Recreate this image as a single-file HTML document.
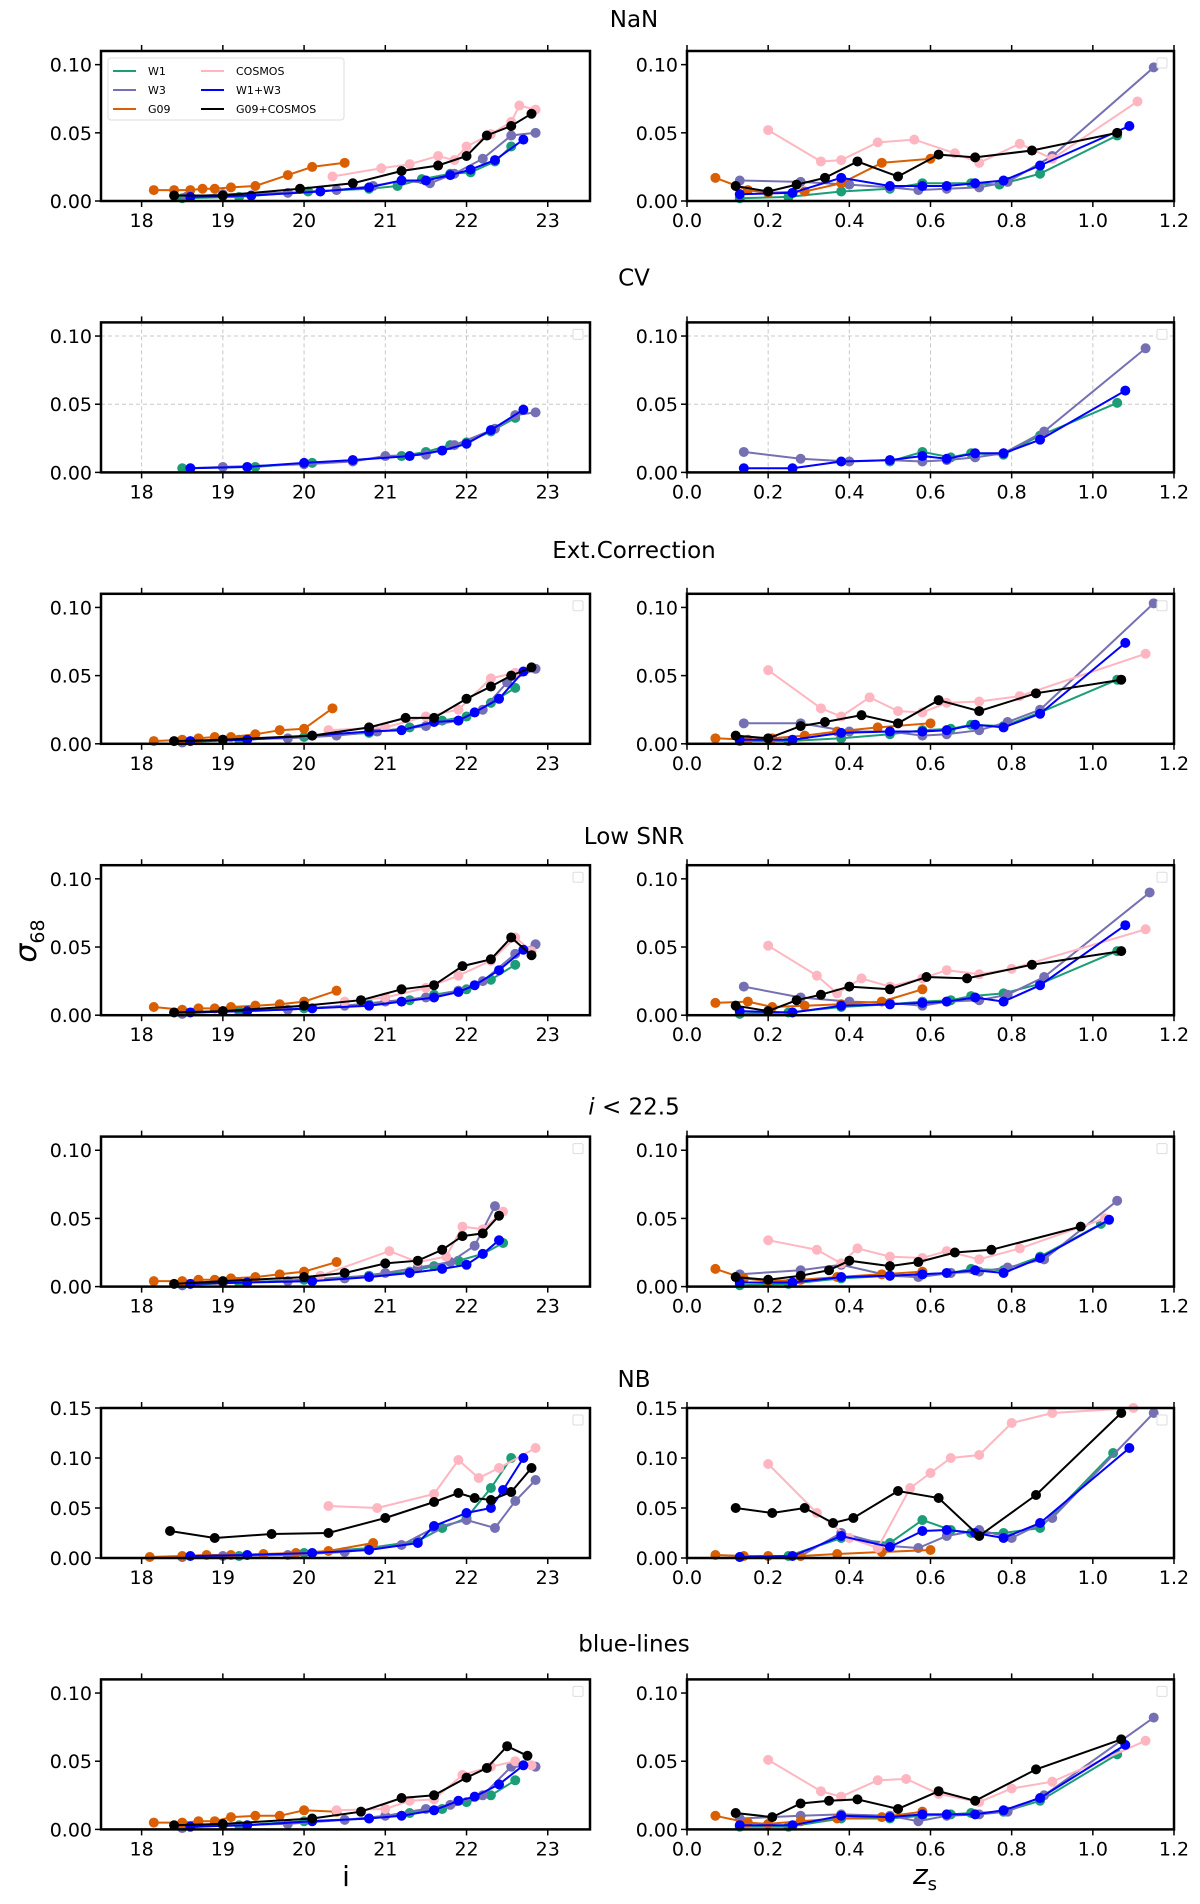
<!DOCTYPE html>
<html><head><meta charset="utf-8"><style>
body{margin:0;background:#fff;}
svg{display:block;font-family:"DejaVu Sans","Liberation Sans",sans-serif;}
</style></head><body>
<svg id="fig" width="1200" height="1904" viewBox="0 0 1200 1904" xmlns="http://www.w3.org/2000/svg"></svg>
<script>
const rowTitles=["NaN","CV","Ext.Correction","Low SNR","i<22.5","NB","blue-lines"];
const seriesNames=["W1","W3","G09","COSMOS","W1+W3","G09+COSMOS"];
const seriesColors=["#1b9e77","#7570b3","#d95f02","#ffb6c1","#0000ff","#000000"];
const iTicks=[18,19,20,21,22,23];
const zTicks=[0.0,0.2,0.4,0.6,0.8,1.0,1.2];
const zTickLabels=["0.0","0.2","0.4","0.6","0.8","1.0","1.2"];
const yTicksA=[0,0.05,0.10];const yTickLabelsA=["0.00","0.05","0.10"];
const yTicksB=[0,0.05,0.10,0.15];const yTickLabelsB=["0.00","0.05","0.10","0.15"];
const nanI=[
[[18.5,19.2,20.05,20.8,21.15,21.45,21.8,22.05,22.35,22.55],[.002,.003,.007,.009,.011,.016,.020,.021,.029,.040]],
[[18.55,19.0,19.8,20.4,20.85,21.2,21.55,21.85,22.2,22.55,22.85],[.003,.005,.006,.008,.011,.015,.013,.020,.031,.048,.050]],
[[18.15,18.4,18.6,18.75,18.9,19.1,19.4,19.8,20.1,20.5],[.008,.008,.008,.009,.009,.010,.011,.019,.025,.028]],
[[20.35,20.95,21.3,21.65,21.85,22.0,22.3,22.55,22.65,22.85],[.018,.024,.027,.033,.030,.040,.049,.058,.070,.067]],
[[18.6,19.35,20.2,20.8,21.2,21.5,21.8,22.05,22.35,22.7],[.003,.004,.007,.010,.015,.015,.019,.023,.030,.045]],
[[18.4,19.0,19.95,20.6,21.2,21.65,22.0,22.25,22.55,22.8],[.004,.004,.009,.013,.022,.026,.033,.048,.055,.064]]];
const nanZ=[
[[.13,.25,.38,.5,.58,.7,.77,.87,1.06],[.002,.003,.007,.009,.013,.013,.012,.020,.048]],
[[.13,.28,.4,.5,.57,.64,.72,.79,.9,1.15],[.015,.014,.012,.010,.008,.009,.010,.014,.033,.098]],
[[.07,.15,.2,.29,.38,.48,.6],[.017,.008,.006,.007,.013,.028,.031]],
[[.2,.33,.38,.47,.56,.66,.72,.82,.9,1.11],[.052,.029,.030,.043,.045,.035,.028,.042,.031,.073]],
[[.13,.26,.38,.5,.58,.64,.71,.78,.87,1.09],[.005,.006,.017,.011,.011,.011,.013,.015,.026,.055]],
[[.12,.2,.27,.34,.42,.52,.62,.71,.85,1.06],[.011,.007,.012,.017,.029,.018,.034,.032,.037,.050]]];
const cvI=[
[[18.5,19.4,20.1,20.6,21.2,21.5,21.8,22.0,22.3,22.6],[.003,.004,.007,.009,.012,.015,.020,.022,.030,.040]],
[[18.6,19.0,20.0,20.6,21.0,21.5,21.85,22.35,22.6,22.85],[.003,.004,.006,.008,.012,.013,.020,.032,.042,.044]],
null,null,
[[18.6,19.3,20.0,20.6,21.3,21.7,22.0,22.3,22.7],[.003,.004,.007,.009,.012,.016,.021,.031,.046]],
null];
const cvZ=[
[[.5,.58,.65,.7,.78,.87,1.06],[.008,.015,.011,.014,.013,.027,.051]],
[[.14,.28,.4,.5,.58,.64,.71,.78,.88,1.13],[.015,.010,.008,.009,.008,.009,.011,.014,.030,.091]],
null,null,
[[.14,.26,.38,.5,.58,.64,.71,.78,.87,1.08],[.003,.003,.008,.009,.012,.010,.014,.014,.024,.060]],
null];
const extI=[
[[18.5,19.2,20.0,20.8,21.3,21.7,22.0,22.3,22.6],[.001,.003,.005,.008,.012,.017,.020,.030,.041]],
[[18.5,19.0,19.8,20.4,20.9,21.5,21.9,22.2,22.5,22.85],[.001,.003,.004,.006,.009,.013,.017,.025,.045,.055]],
[[18.15,18.5,18.7,18.9,19.1,19.4,19.7,20.0,20.35],[.002,.003,.004,.005,.005,.007,.010,.011,.026]],
[[20.3,21.0,21.5,21.9,22.3,22.6,22.8],[.010,.012,.020,.025,.048,.052,.056]],
[[18.6,19.3,20.1,20.8,21.2,21.6,21.9,22.1,22.4,22.7],[.002,.003,.006,.009,.010,.016,.017,.023,.033,.053]],
[[18.4,19.0,20.1,20.8,21.25,21.6,22.0,22.3,22.55,22.8],[.002,.003,.006,.012,.019,.019,.033,.042,.050,.056]]];
const extZ=[
[[.13,.25,.38,.5,.58,.65,.7,.78,.87,1.06],[.002,.002,.004,.007,.010,.011,.014,.013,.023,.047]],
[[.14,.28,.4,.5,.58,.64,.72,.79,.87,1.15],[.015,.015,.009,.009,.006,.007,.010,.016,.025,.103]],
[[.07,.15,.21,.29,.37,.47,.6],[.004,.003,.004,.006,.009,.012,.015]],
[[.2,.33,.38,.45,.52,.58,.64,.72,.82,1.13],[.054,.026,.020,.034,.024,.023,.030,.031,.035,.066]],
[[.13,.26,.38,.5,.58,.64,.71,.78,.87,1.08],[.003,.003,.008,.009,.009,.010,.014,.012,.022,.074]],
[[.12,.2,.28,.34,.43,.52,.62,.72,.86,1.07],[.006,.004,.013,.016,.021,.015,.032,.024,.037,.047]]];
const lowI=[
[[18.5,19.2,20.0,20.8,21.3,21.6,22.0,22.3,22.6],[.002,.003,.005,.008,.011,.015,.019,.026,.037]],
[[18.5,19.0,19.8,20.5,21.0,21.5,21.9,22.2,22.6,22.85],[.001,.003,.004,.007,.010,.013,.018,.025,.045,.052]],
[[18.15,18.5,18.7,18.9,19.1,19.4,19.7,20.0,20.4],[.006,.004,.005,.005,.006,.007,.008,.010,.018]],
[[20.5,21.0,21.5,21.9,22.3,22.6,22.8],[.010,.013,.020,.029,.040,.057,.047]],
[[18.6,19.3,20.1,20.8,21.2,21.6,21.9,22.1,22.4,22.7],[.002,.003,.005,.007,.010,.013,.017,.022,.033,.048]],
[[18.4,19.0,20.0,20.7,21.2,21.6,21.95,22.3,22.55,22.8],[.002,.003,.007,.011,.019,.022,.036,.041,.057,.044]]];
const lowZ=[
[[.13,.25,.38,.5,.58,.65,.7,.78,.87,1.06],[.001,.002,.006,.008,.010,.011,.014,.016,.023,.047]],
[[.14,.28,.4,.5,.58,.64,.72,.79,.88,1.14],[.021,.013,.010,.009,.007,.010,.011,.015,.028,.090]],
[[.07,.15,.21,.29,.38,.48,.58],[.009,.010,.006,.007,.008,.010,.019]],
[[.2,.32,.37,.43,.5,.58,.64,.72,.8,1.13],[.051,.029,.016,.027,.021,.027,.033,.030,.034,.063]],
[[.13,.26,.38,.5,.58,.64,.71,.78,.87,1.08],[.003,.002,.007,.008,.009,.010,.013,.010,.022,.066]],
[[.12,.2,.27,.33,.4,.5,.59,.69,.85,1.07],[.007,.003,.011,.015,.021,.019,.028,.027,.037,.047]]];
const cutI=[
[[18.5,19.2,20.0,20.8,21.3,21.6,21.9,22.2,22.45],[.001,.003,.005,.008,.011,.015,.019,.024,.032]],
[[18.5,19.0,19.8,20.5,21.0,21.4,21.8,22.1,22.35],[.001,.003,.004,.006,.010,.014,.018,.030,.059]],
[[18.15,18.5,18.7,18.9,19.1,19.4,19.7,20.0,20.4],[.004,.004,.005,.005,.006,.007,.009,.011,.018]],
[[20.2,21.05,21.4,21.75,21.95,22.2,22.45],[.008,.026,.018,.022,.044,.042,.055]],
[[18.6,19.3,20.1,20.8,21.3,21.7,22.0,22.2,22.4],[.002,.003,.004,.007,.010,.013,.016,.024,.034]],
[[18.4,19.0,20.0,20.5,21.0,21.4,21.7,21.95,22.2,22.4],[.002,.004,.007,.010,.017,.019,.027,.037,.039,.052]]];
const cutZ=[
[[.13,.25,.38,.5,.58,.65,.7,.78,.87,1.02],[.001,.002,.006,.008,.009,.010,.013,.012,.022,.046]],
[[.13,.28,.38,.5,.57,.65,.72,.79,.88,1.06],[.009,.012,.016,.008,.007,.010,.011,.014,.020,.063]],
[[.07,.14,.2,.28,.37,.48,.58],[.013,.006,.004,.005,.007,.009,.011]],
[[.2,.32,.38,.42,.5,.58,.64,.72,.82,1.03],[.034,.027,.017,.028,.022,.021,.026,.020,.028,.050]],
[[.13,.26,.38,.5,.58,.64,.71,.78,.87,1.04],[.003,.003,.007,.008,.009,.010,.012,.010,.021,.049]],
[[.12,.2,.28,.35,.4,.5,.57,.66,.75,.97],[.007,.005,.008,.012,.019,.015,.018,.025,.027,.044]]];
const nbI=[
[[18.5,19.2,20.0,20.8,21.4,21.7,22.0,22.3,22.55],[.001,.002,.005,.010,.017,.030,.040,.070,.100]],
[[18.5,19.0,19.8,20.5,21.2,21.6,22.0,22.35,22.6,22.85],[.001,.002,.003,.006,.013,.030,.038,.030,.057,.078]],
[[18.1,18.5,18.8,19.1,19.5,19.9,20.3,20.85],[.001,.002,.003,.003,.004,.005,.007,.015]],
[[20.3,20.9,21.6,21.9,22.15,22.4,22.85],[.052,.050,.064,.098,.080,.090,.110]],
[[18.6,19.3,20.1,20.8,21.4,21.6,22.0,22.3,22.45,22.7],[.002,.003,.005,.008,.015,.032,.045,.050,.068,.100]],
[[18.35,18.9,19.6,20.3,21.0,21.6,21.9,22.1,22.3,22.55,22.8],[.027,.020,.024,.025,.040,.056,.065,.060,.058,.066,.090]]];
const nbZ=[
[[.13,.25,.38,.5,.58,.65,.7,.78,.87,1.05],[.001,.002,.020,.015,.038,.028,.025,.025,.030,.105]],
[[.13,.28,.38,.5,.57,.64,.72,.8,.9,1.15],[.001,.002,.025,.012,.010,.022,.028,.020,.040,.145]],
[[.07,.14,.2,.28,.37,.48,.6],[.003,.002,.002,.002,.004,.006,.008]],
[[.2,.32,.4,.47,.55,.6,.65,.72,.8,.9,1.1],[.094,.045,.020,.010,.070,.085,.100,.103,.135,.145,.150]],
[[.13,.26,.38,.5,.58,.64,.71,.78,.87,1.09],[.001,.002,.022,.011,.027,.028,.025,.020,.035,.110]],
[[.12,.21,.29,.36,.41,.52,.62,.72,.86,1.07],[.050,.045,.050,.035,.040,.067,.060,.022,.063,.145]]];
const blI=[
[[18.5,19.2,20.0,20.8,21.3,21.7,22.0,22.3,22.6],[.002,.003,.006,.008,.012,.015,.020,.025,.036]],
[[18.5,19.0,19.8,20.5,21.0,21.5,21.8,22.2,22.55,22.85],[.001,.003,.004,.007,.010,.015,.018,.025,.046,.046]],
[[18.15,18.5,18.7,18.9,19.1,19.4,19.7,20.0,20.4],[.005,.005,.006,.006,.009,.010,.010,.014,.013]],
[[20.4,21.0,21.3,21.6,21.95,22.3,22.6,22.8],[.014,.015,.021,.022,.040,.046,.050,.047]],
[[18.6,19.3,20.1,20.8,21.2,21.6,21.9,22.1,22.4,22.7],[.002,.003,.006,.008,.010,.014,.021,.024,.033,.047]],
[[18.4,19.0,20.1,20.7,21.2,21.6,22.0,22.25,22.5,22.75],[.003,.004,.008,.013,.023,.025,.038,.045,.061,.054]]];
const blZ=[
[[.13,.25,.38,.5,.58,.65,.7,.78,.87,1.06],[.002,.002,.008,.008,.010,.011,.012,.013,.021,.055]],
[[.13,.28,.38,.5,.57,.64,.72,.79,.88,1.15],[.008,.010,.011,.010,.006,.010,.011,.013,.025,.082]],
[[.07,.15,.2,.28,.37,.48,.58],[.010,.005,.004,.006,.008,.009,.013]],
[[.2,.33,.38,.47,.54,.62,.72,.8,.9,1.13],[.051,.028,.024,.036,.037,.026,.020,.030,.035,.065]],
[[.13,.26,.38,.5,.58,.64,.71,.78,.87,1.08],[.003,.003,.010,.009,.011,.011,.011,.014,.023,.062]],
[[.12,.21,.28,.35,.42,.52,.62,.71,.86,1.07],[.012,.009,.019,.021,.022,.015,.028,.021,.044,.066]]];
const leftData=[nanI,cvI,extI,lowI,cutI,nbI,blI];
const rightData=[nanZ,cvZ,extZ,lowZ,cutZ,nbZ,blZ];

const NS="http://www.w3.org/2000/svg";
const svg=document.getElementById('fig');
function mk(tag,attrs,parent){const e=document.createElementNS(NS,tag);for(const k in attrs)e.setAttribute(k,attrs[k]);(parent||svg).appendChild(e);return e;}
const ROW0=51,PITCH=271.4,H=150;
const titleShift=[2,-11,-10,5,4,5,-2];
const panels=[{x0:101,x1:590,dom:[17.5,23.52],ticks:iTicks,labels:iTicks.map(String),key:"i"},
              {x0:687,x1:1174,dom:[0,1.2],ticks:zTicks,labels:zTickLabels,key:"z"}];
for(let r=0;r<7;r++){
  const top=ROW0+PITCH*r,bot=top+H;
  const ymax=(r===5)?0.15:0.11;
  const yt=(r===5)?yTicksB:yTicksA, ytl=(r===5)?yTickLabelsB:yTickLabelsA;
  const title=mk('text',{x:634,y:top-26+titleShift[r],'text-anchor':'middle','font-size':23,fill:'#000'});
  
  
  if(r===4){title.innerHTML='<tspan font-style="italic">i</tspan> &lt; 22.5';}else title.textContent=rowTitles[r];
  panels.forEach((p,pi)=>{
    const g=mk('g',{});
    
    
    const sx=v=>p.x0+(v-p.dom[0])/(p.dom[1]-p.dom[0])*(p.x1-p.x0);
    const sy=v=>bot-v/ymax*H;
    if(r===1){
      p.ticks.forEach(t=>{const l=mk('line',{x1:sx(t),x2:sx(t),y1:top,y2:bot,stroke:'#c8c8c8','stroke-width':1,'stroke-dasharray':'4,3'},g);});
      yt.forEach(t=>{const l=mk('line',{x1:p.x0,x2:p.x1,y1:sy(t),y2:sy(t),stroke:'#c8c8c8','stroke-width':1,'stroke-dasharray':'4,3'},g);});
    }
    const data=(pi===0?leftData:rightData)[r];
    data.forEach((s,si)=>{
      if(!s)return;
      const sg=mk('g',{},g);
      
      
      const pts=s[0].map((x,i)=>sx(x).toFixed(1)+','+sy(Math.min(s[1][i],ymax)).toFixed(1)).join(' ');
      const pl=mk('polyline',{points:pts,fill:'none',stroke:seriesColors[si],'stroke-width':2},sg);
      
      
      s[0].forEach((x,i)=>{
        const c=mk('circle',{cx:sx(x),cy:sy(Math.min(s[1][i],ymax)),r:5,fill:seriesColors[si]},sg);
        
        
      });
    });
    const fr=mk('rect',{x:p.x0,y:top,width:p.x1-p.x0,height:H,fill:'none',stroke:'#000','stroke-width':2.5},g);
    
    
    p.ticks.forEach((t,i)=>{
      const x=sx(t);
      mk('line',{x1:x,x2:x,y1:bot,y2:bot+6,stroke:'#000','stroke-width':1.5},g);
      mk('line',{x1:x,x2:x,y1:top,y2:top-6,stroke:'#000','stroke-width':1.5},g);
      const tl=mk('text',{x:x,y:bot+26,'text-anchor':'middle','font-size':19,fill:'#000'},g);
      
      
      tl.textContent=p.labels[i];
    });
    yt.forEach((t,i)=>{
      const y=sy(t);
      mk('line',{x1:p.x0,x2:p.x0-6,y1:y,y2:y,stroke:'#000','stroke-width':1.5},g);
      const tl=mk('text',{x:p.x0-9,y:y+7,'text-anchor':'end','font-size':19,fill:'#000'},g);
      
      
      tl.textContent=ytl[i];
    });
    if(!(r===0&&pi===0)){
      const lb=mk('rect',{x:p.x1-17,y:top+7,width:10,height:10,fill:'#fff',stroke:'#ddd','stroke-width':1,rx:1.5},g);
      
      
    }
  });
}
const lg=mk('g',{});


const lr=mk('rect',{x:108,y:58,width:236,height:62,fill:'#fff',stroke:'#ddd','stroke-width':1,rx:3},lg);


seriesNames.forEach((n,i)=>{
  const col=Math.floor(i/3),row=i%3;
  const lx=113+col*88,ly=71+row*19;
  const e=mk('g',{},lg);
  
  
  mk('line',{x1:lx,x2:lx+23,y1:ly,y2:ly,stroke:seriesColors[i],'stroke-width':2},e);
  const t=mk('text',{x:lx+35,y:ly+4,'font-size':11,fill:'#000'},e);
  t.textContent=n;
});
const yl=mk('text',{x:0,y:0,transform:'translate(36,941) rotate(-90)','text-anchor':'middle','font-size':30,fill:'#000'});


yl.innerHTML='<tspan font-style="italic">σ</tspan><tspan font-size="19" dy="8">68</tspan>';
const xl1=mk('text',{x:346,y:1886,'text-anchor':'middle','font-size':28,fill:'#000'});


xl1.textContent='i';
const xl2=mk('text',{x:925,y:1884,'text-anchor':'middle','font-size':28,fill:'#000'});


xl2.innerHTML='<tspan font-style="italic">z</tspan><tspan font-size="18" dy="6">s</tspan>';
</script>
</body></html>
